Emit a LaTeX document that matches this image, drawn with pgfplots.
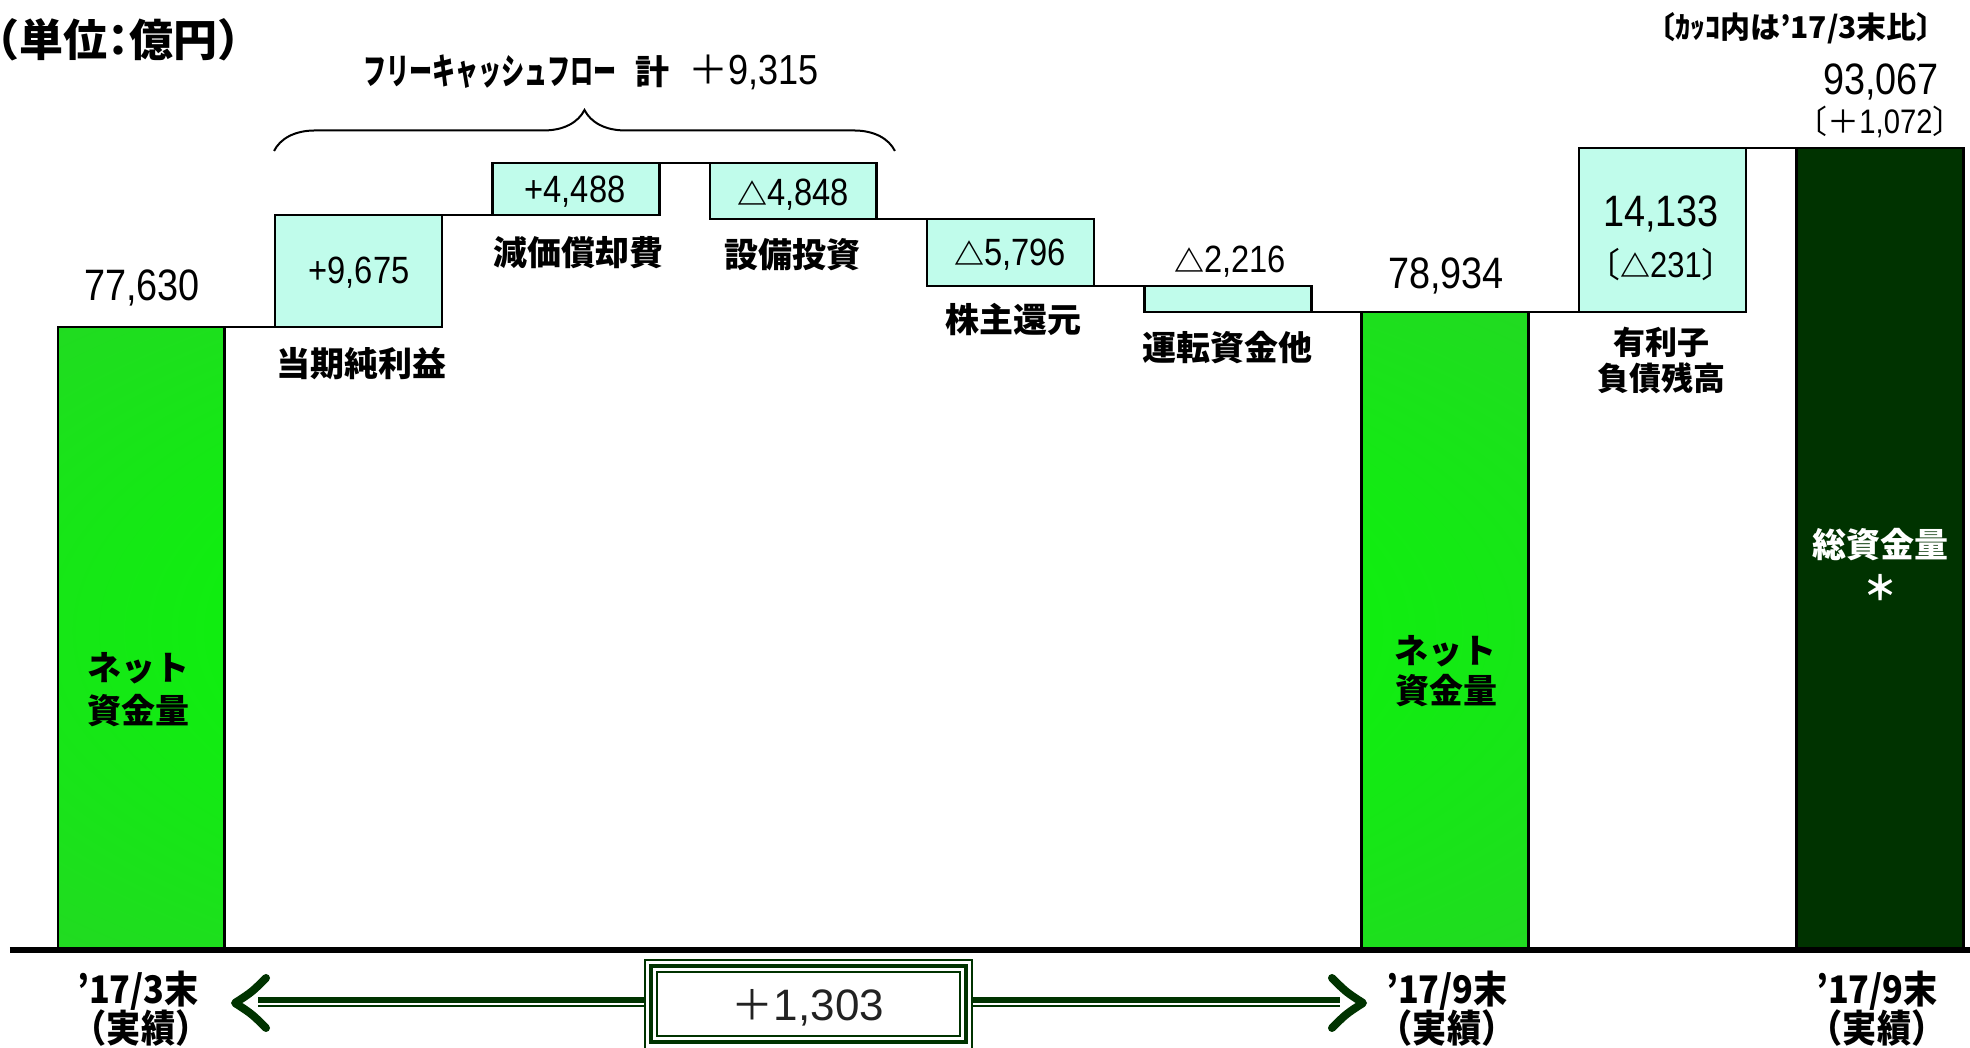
\documentclass[border=0pt]{standalone}
\usepackage{fontspec}
\usepackage{pgfplots}
\usepackage{pgfplotstable}
\pgfplotsset{compat=1.18}
\usetikzlibrary{decorations.pathreplacing}
\setmainfont{Liberation Sans}
\newfontfamily\jp{Noto Sans CJK JP}
\newfontfamily\jph{Noto Sans CJK JP}[RawFeature=+halt]
\newfontfamily\jpc{Noto Sans CJK JP}[FakeStretch=0.64]
\newfontfamily\jpn{Noto Sans CJK JP}[FakeStretch=0.9]
\newfontfamily\num{Liberation Sans}[FakeStretch=0.86]
\newfontfamily\numw{Liberation Sans}
\newcommand\fs[1]{\fontsize{#1}{#1}\selectfont}
\definecolor{mint}{RGB}{192,252,235}
\definecolor{dkg}{RGB}{0,51,0}
\definecolor{gedge}{RGB}{50,200,50}
\definecolor{gcenter}{RGB}{0,255,0}
\definecolor{txt}{RGB}{34,34,34}
\pgfdeclareradialshading{glow}{\pgfpoint{0bp}{0bp}}{color(0bp)=(gcenter); color(12bp)=(gcenter!85!gedge); color(50bp)=(gedge)}
\def\base{23904}
% floating steps: x, bottom of box, size of step
\pgfplotstableread{
x base delta
1 77630 9675
2 87305 4488
3 86945 4848
4 81149 5796
5 78933 2216
7 78934 14133
}\steps
\pgfplotstableread{
x total
0 77630
6 78934
}\netfunds
\pgfplotstableread{
x total
8 93067
}\gross
\begin{document}
\begin{tikzpicture}
\pgfplotsset{wf/.style={width=985pt, height=524pt, scale only axis, hide axis, clip=false,
  xmin=-0.650, xmax=8.415, ymin=15453, ymax=105829, at={(0,0)}, anchor=south west}}
% connectors and brace
\begin{axis}[wf]
\addplot[black, line width=1pt, mark=none] coordinates {(0.384,77630) (0.616,77630)};
\addplot[black, line width=1pt, mark=none] coordinates {(1.384,87305) (1.616,87305)};
\addplot[black, line width=1pt, mark=none] coordinates {(2.384,91793) (2.616,91793)};
\addplot[black, line width=1pt, mark=none] coordinates {(3.384,86945) (3.616,86945)};
\addplot[black, line width=1pt, mark=none] coordinates {(4.384,81149) (4.616,81149)};
\addplot[black, line width=1pt, mark=none] coordinates {(5.384,78933) (5.616,78933)};
\addplot[black, line width=1pt, mark=none] coordinates {(6.384,78934) (6.616,78934)};
\addplot[black, line width=1pt, mark=none] coordinates {(7.384,93067) (7.616,93067)};
\draw[decorate, decoration={brace, amplitude=20.5pt}, line width=1pt]
  (axis cs:0.611,92807) -- (axis cs:3.468,92807);
\end{axis}
% floating cyan boxes
\begin{axis}[wf, ybar stacked, bar width=0.768]
\addplot[draw=none, fill=none] table[x=x, y=base]{\steps};
\addplot[fill=mint, draw=black, line width=1.2pt] table[x=x, y=delta]{\steps};
\end{axis}
% net funds bars
\begin{axis}[wf, ybar stacked, bar width=0.768]
\addplot[draw=none, fill=none] table[x=x, y expr=\base]{\netfunds};
\addplot[draw=black, line width=1.3pt, shading=glow]
  table[x=x, y expr=\thisrow{total}-\base]{\netfunds};
\end{axis}
% gross funds bar
\begin{axis}[wf, ybar stacked, bar width=0.768]
\addplot[draw=none, fill=none] table[x=x, y expr=\base]{\gross};
\addplot[fill=dkg, draw=black, line width=1.3pt]
  table[x=x, y expr=\thisrow{total}-\base]{\gross};
\end{axis}
% baseline
\begin{axis}[wf]
\addplot[black, line width=2.6pt, mark=none] coordinates {(-0.604,23904) (8.415,23904)};
\end{axis}
% annotations (pixel grid of the reference: 1 px = 0.5pt, origin top left)
\begin{scope}[x=0.5pt, y=-0.5pt, yshift=524pt]
\node[anchor=west, inner sep=0, font=\jph\bfseries\fs{22}] at (-3,40) {（単位：億円）};
\node[anchor=west, inner sep=0, font=\jpc\bfseries\fs{18}] at (363,72) {フリーキャッシュフロー};
\node[font=\jp\bfseries\fs{17}] at (652,72) {計};
\node[anchor=west, inner sep=0] at (688,72) {{\jp\fs{20}＋}{\num\fs{21}9,315}};
\node[font=\jp\bfseries\fs{15}] at (1796,28) {〔ｶｯｺ内は’17/3末比〕};
\node[font=\num\fs{22}] at (1881,82) {93,067};
\node at (1880,122) {{\jp\fs{16}〔＋}{\num\fs{17}1,072}{\jp\fs{16}〕}};
% values
\node[font=\num\fs{22}] at (142,288) {77,630};
\node[font=\num\fs{19}] at (359,273) {+9,675};
\node[font=\num\fs{19}] at (575,192) {+4,488};
\node[font=\num\fs{19}] at (793,195) {{\jp\bfseries\fs{15}△}4,848};
\node[font=\num\fs{19}] at (1010,255) {{\jp\bfseries\fs{15}△}5,796};
\node[font=\num\fs{19}] at (1230,262) {{\jp\bfseries\fs{15}△}2,216};
\node[font=\num\fs{22}] at (1446,276) {78,934};
\node[font=\num\fs{22}] at (1661,214) {14,133};
\node[font=\num\fs{18}] at (1661,265) {{\jp\fs{17}〔}{\jp\bfseries\fs{15}△}231{\jp\fs{17}〕}};
% category labels
\node[font=\jp\bfseries\fs{17}] at (361,364) {当期純利益};
\node[font=\jp\bfseries\fs{17}] at (578,253) {減価償却費};
\node[font=\jp\bfseries\fs{17}] at (792,255) {設備投資};
\node[font=\jp\bfseries\fs{17}] at (1013,320) {株主還元};
\node[font=\jp\bfseries\fs{17}] at (1227,348) {運転資金他};
\node[font=\jp\bfseries\fs{16}] at (1661,342) {有利子};
\node[font=\jp\bfseries\fs{16}] at (1661,378) {負債残高};
\node[font=\jp\bfseries\fs{17}] at (138,668) {ネット};
\node[font=\jp\bfseries\fs{17}] at (138,711) {資金量};
\node[font=\jp\bfseries\fs{17}] at (1445,651) {ネット};
\node[font=\jp\bfseries\fs{17}] at (1446,691) {資金量};
\node[font=\jp\bfseries\fs{17}, text=white] at (1880,545) {総資金量};
\node[font=\jp\bfseries\fs{17}, text=white] at (1880,588) {＊};
% bottom labels
\node[font=\jpn\bfseries\fs{19}] at (138,991) {’17/3末};
\node[font=\jpn\bfseries\fs{19}] at (141,1028) {（実績）};
\node[font=\jpn\bfseries\fs{19}] at (1447,991) {’17/9末};
\node[font=\jpn\bfseries\fs{19}] at (1447,1028) {（実績）};
\node[font=\jpn\bfseries\fs{19}] at (1877,991) {’17/9末};
\node[font=\jpn\bfseries\fs{19}] at (1877,1028) {（実績）};
% double arrow with framed difference
\draw[dkg, line width=3pt] (258,1000) -- (645,1000);
\draw[dkg, line width=1pt] (258,1006) -- (645,1006);
\draw[dkg, line width=3pt] (972,1000) -- (1340,1000);
\draw[dkg, line width=1pt] (972,1006) -- (1340,1006);
\draw[dkg, line width=4pt, line cap=round, line join=round] (266,978) .. controls (252,992) .. (235,1003) .. controls (252,1014) .. (266,1028);
\draw[dkg, line width=4pt, line cap=round, line join=round] (1332,978) .. controls (1346,992) .. (1363,1003) .. controls (1346,1014) .. (1332,1028);
\fill[white] (645,960) rectangle (972,1060);
\draw[dkg, line width=1pt] (645,960) rectangle (972,1060);
\draw[dkg, line width=2.4pt] (651,966) rectangle (966,1042);
\draw[dkg, line width=1pt] (657,972) rectangle (960,1036);
\node[text=txt] at (808,1008) {{\jp\fs{21}＋}{\numw\fs{22}1,303}};
\end{scope}
\pgfresetboundingbox
\path[use as bounding box] (0,0) rectangle (985pt,524pt);
\end{tikzpicture}
\end{document}
